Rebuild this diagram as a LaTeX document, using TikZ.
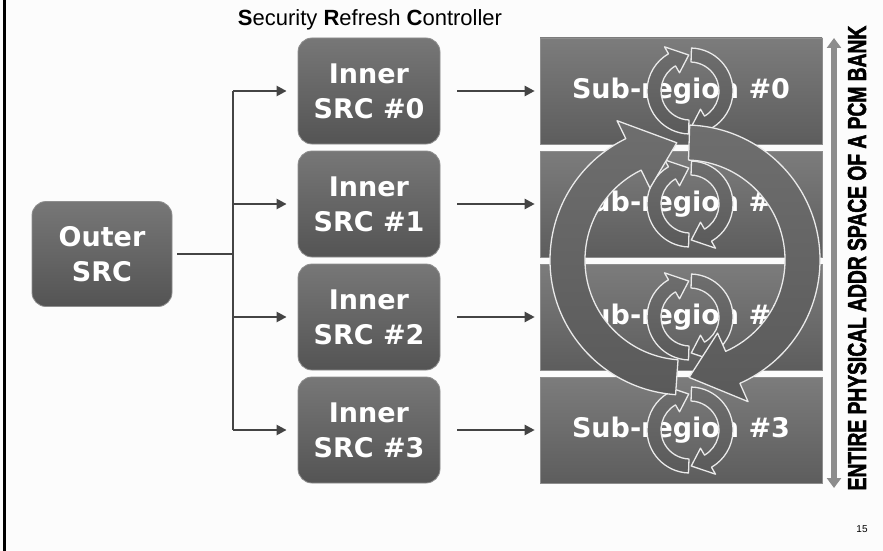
\documentclass[tikz,border=0pt]{standalone}
\usepackage{fontspec}
\setmainfont{Liberation Sans}
\newfontfamily\boxfont{DejaVu Sans}
\newfontfamily\heavyfont{Liberation Sans}[BoldFeatures={FakeBold=2.4}]
\usetikzlibrary{arrows.meta}

\definecolor{pagebg}{HTML}{FCFCFC}
\definecolor{boxtop}{HTML}{777777}
\definecolor{boxbot}{HTML}{545454}
\definecolor{boxedge}{HTML}{8E8E8E}
\definecolor{subtop}{HTML}{7C7C7C}
\definecolor{subbot}{HTML}{5D5D5D}
\definecolor{connclr}{HTML}{444444}
\definecolor{ringtop}{HTML}{6E6E6E}
\definecolor{ringbot}{HTML}{5A5A5A}
\definecolor{ringedge}{HTML}{EAEAEA}
\definecolor{bankclr}{HTML}{8C8C8C}

\tikzset{
  ctrl/.style={rounded corners=14pt, top color=boxtop, bottom color=boxbot,
    draw=boxedge, line width=0.8pt, minimum width=142pt, minimum height=106pt,
    text=white, align=center, inner sep=0pt,
    font={\boxfont\bfseries\fontsize{27}{35}\selectfont}},
  region/.style={top color=subtop, bottom color=subbot, draw=boxedge,
    line width=0.6pt, minimum width=282pt, minimum height=106pt,
    text=white, inner sep=0pt,
    font={\boxfont\bfseries\fontsize{27}{35}\selectfont}},
  conn/.style={draw=connclr, line width=2.3pt},
  feed/.style={conn, -{Triangle[length=10pt,width=10pt]}},
  ringarrow/.style={top color=ringtop, bottom color=ringbot, draw=ringedge,
    line width=1.3pt, line join=round},
}

% clockwise curved band arrow around the current origin
% #1 inner radius, #2 outer radius, #3 start angle, #4 tip angle,
% #5 head length (degrees), #6 head overhang beyond the band
\newcommand\cwarrow[6]{%
  \pgfmathsetmacro\RBi{#1}%
  \pgfmathsetmacro\RBo{#2}%
  \pgfmathsetmacro\RBm{(#1+#2)/2}%
  \pgfmathsetmacro\RBwi{#1-#6}%
  \pgfmathsetmacro\RBwo{#2+#6}%
  \pgfmathsetmacro\RBh{#4+#5}%
  \draw[ringarrow] (#3:\RBo pt) arc[start angle=#3, end angle=\RBh, radius=\RBo pt]
    -- (\RBh:\RBwo pt) -- (#4:\RBm pt) -- (\RBh:\RBwi pt) -- (\RBh:\RBi pt)
    arc[start angle=\RBh, end angle=#3, radius=\RBi pt] -- cycle;}

\begin{document}
\begin{tikzpicture}[x=1pt, y=-1pt]
  \fill[pagebg] (0,0) rectangle (883,551);
  \useasboundingbox (0,0) rectangle (883,551);
  \draw[line width=2.6pt, black] (4.5,0) -- (4.5,551);

  % title
  \node[font=\fontsize{22}{25}\selectfont] (title) at (370,20)
    {\textbf{S}ecurity \textbf{R}efresh \textbf{C}ontroller};

  % controllers and regions
  \node[ctrl, minimum width=140pt, minimum height=105pt] (outer) at (102,254) {Outer\\SRC};
  \foreach \i/\y in {0/91,1/204,2/317,3/430} {
    \node[ctrl] (in\i) at (369,\y) {Inner\\SRC \#\i};
    \node[region] (sub\i) at (681,\y) {Sub-region \#\i};
  }

  % connectors
  \coordinate (busx) at (233,0);
  \draw[conn] ([xshift=5pt]outer.east) -- (outer.east -| busx);
  \draw[conn] (busx |- in0.west) -- (busx |- in3.west);
  \foreach \i in {0,1,2,3} {
    \draw[feed] (busx |- in\i.west) -- ([xshift=-11pt]in\i.west);
    \draw[feed] ([xshift=17pt]in\i.east) -- ([xshift=-5pt]sub\i.west);
  }

  % refresh rings inside each sub-region
  \foreach \y in {91,204,317,430} {
    \begin{scope}[shift={(690,\y)}]
      \cwarrow{29}{43}{268}{92}{28}{8}
      \cwarrow{29}{43}{88}{-88}{28}{8}
    \end{scope}
  }
  % refresh ring across the whole bank
  \begin{scope}[shift={(685,260)}]
    \cwarrow{100}{135}{266}{94}{22}{20}
    \cwarrow{100}{135}{88}{-88}{22}{20}
  \end{scope}

  % address space extent
  \coordinate (banktop) at (834,38);
  \coordinate (bankbot) at (834,488);
  \draw[bankclr, line width=6pt,
    {Triangle[length=10pt,width=14pt]}-{Triangle[length=10pt,width=14pt]}]
    (banktop) -- (bankbot);
  \node[rotate=90, inner sep=0pt] (banklabel) at (857,258)
    {\scalebox{0.74}[1]{\heavyfont\bfseries\fontsize{26}{26}\selectfont ENTIRE PHYSICAL ADDR SPACE OF A PCM BANK}};

  \node[font=\fontsize{10}{12}\selectfont] (pagenum) at (862,529) {15};
\end{tikzpicture}
\end{document}
